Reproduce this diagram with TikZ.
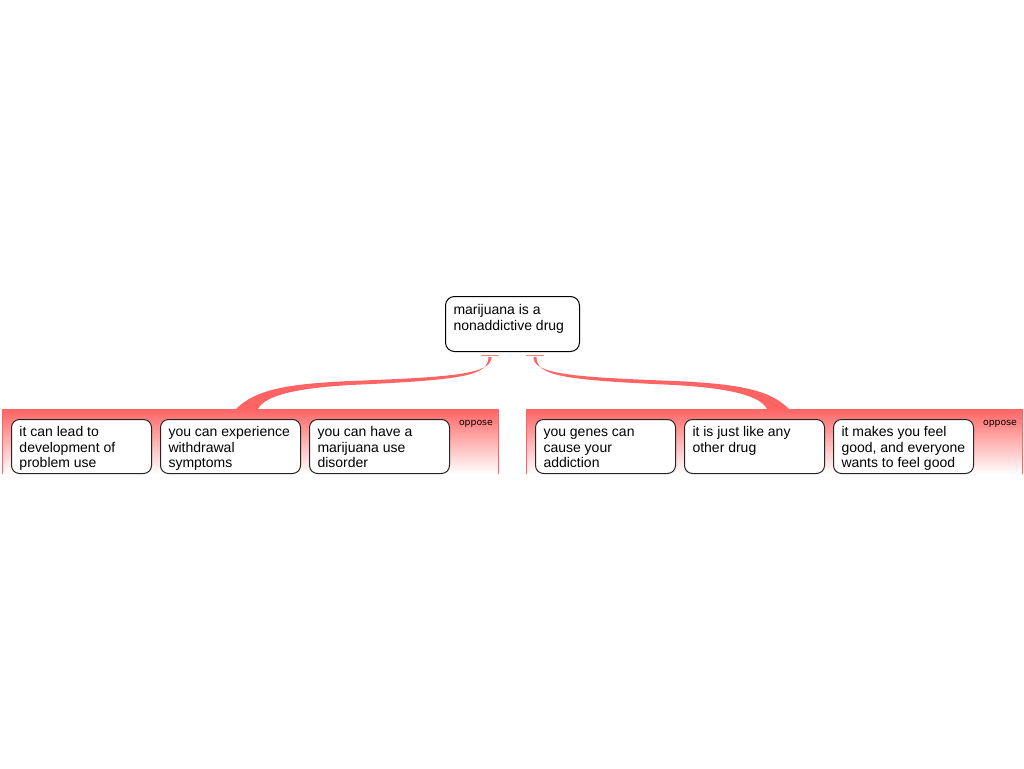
\documentclass[tikz,border=0pt]{standalone}
\usepackage{fontspec}
\setmainfont{Liberation Sans}
\newfontfamily\opfont{DejaVu Sans}
\definecolor{mapred}{RGB}{255,100,100}
\definecolor{stubred}{RGB}{255,130,130}
\tikzset{
  topic/.style={draw=black, line width=1pt, rounded corners=9pt, fill=white,
    inner xsep=8pt, inner ysep=0pt, anchor=north west,
    font=\fontsize{14pt}{15.5pt}\selectfont},
  argbox/.style={draw=black!85, line width=1pt, rounded corners=8pt, fill=white,
    inner xsep=8pt, inner ysep=0pt, anchor=north west,
    font=\fontsize{14pt}{15.5pt}\selectfont},
  grouplabel/.style={font=\opfont\fontsize{9.3pt}{10pt}\selectfont, anchor=east, inner sep=0pt},
  groupband/.style={top color=mapred, bottom color=white, shading angle=0},
  groupedge/.style={draw=mapred, line width=1pt},
  stub/.style={draw=stubred, line width=1pt},
  link/.style={fill=mapred, draw=none}
}
\newcommand{\tbox}[4]{\parbox[c][#1][t]{#2}{\vspace*{#3}\raggedright\strut #4}}
\begin{document}
\begin{tikzpicture}[x=1pt,y=-1pt]
\useasboundingbox (0,0) rectangle (1024,768);
% groups
\shade[groupband] (2,409) rectangle (498,474);
\shade[groupband] (526,409) rectangle (1022,474);
\draw[groupedge] (2,409) -- (2,474);
\draw[groupedge] (498,409) -- (498,474);
\draw[groupedge] (526,409) -- (526,474);
\draw[groupedge] (1022,409) -- (1022,474);
\node[grouplabel] (op1) at (493,423.5) {oppose};
\node[grouplabel] (op2) at (1017,423.5) {oppose};
% main topic
\node[topic] (main) at (445,296) {\tbox{55pt}{118pt}{7.5pt}{marijuana is a\\nonaddictive drug}};
% stubs
\draw[stub] (481,355) -- (499,355);
\draw[stub] (526,355) -- (544,355);
% links
\fill[link] (491.5,357) .. controls (491.5,374) and (455,377) .. (350,381)
  .. controls (285,384) and (255,390) .. (236,409) -- (258,409)
  .. controls (264,397) and (290,388.5) .. (350,385)
  .. controls (462,380) and (488.5,376) .. (488.5,357) -- cycle;
\fill[link] (533.5,357) .. controls (533.5,374) and (570,377) .. (675,381)
  .. controls (740,384) and (770,390) .. (789,409) -- (767,409)
  .. controls (761,397) and (735,388.5) .. (675,385)
  .. controls (563,380) and (536.5,376) .. (536.5,357) -- cycle;
% arguments
\node[argbox] (a1) at (11,419) {\tbox{54pt}{124pt}{6.5pt}{it can lead to development of problem use}};
\node[argbox] (a2) at (160,419) {\tbox{54pt}{124pt}{6.5pt}{you can experience withdrawal symptoms}};
\node[argbox] (a3) at (309,419) {\tbox{54pt}{124pt}{6.5pt}{you can have a marijuana use disorder}};
\node[argbox] (a4) at (535,419) {\tbox{54pt}{124pt}{6.5pt}{you genes can cause your addiction}};
\node[argbox] (a5) at (684,419) {\tbox{54pt}{124pt}{6.5pt}{it is just like any other drug}};
\node[argbox] (a6) at (833,419) {\tbox{54pt}{124pt}{6.5pt}{it makes you feel good, and everyone wants to feel good}};
\end{tikzpicture}
\end{document}
